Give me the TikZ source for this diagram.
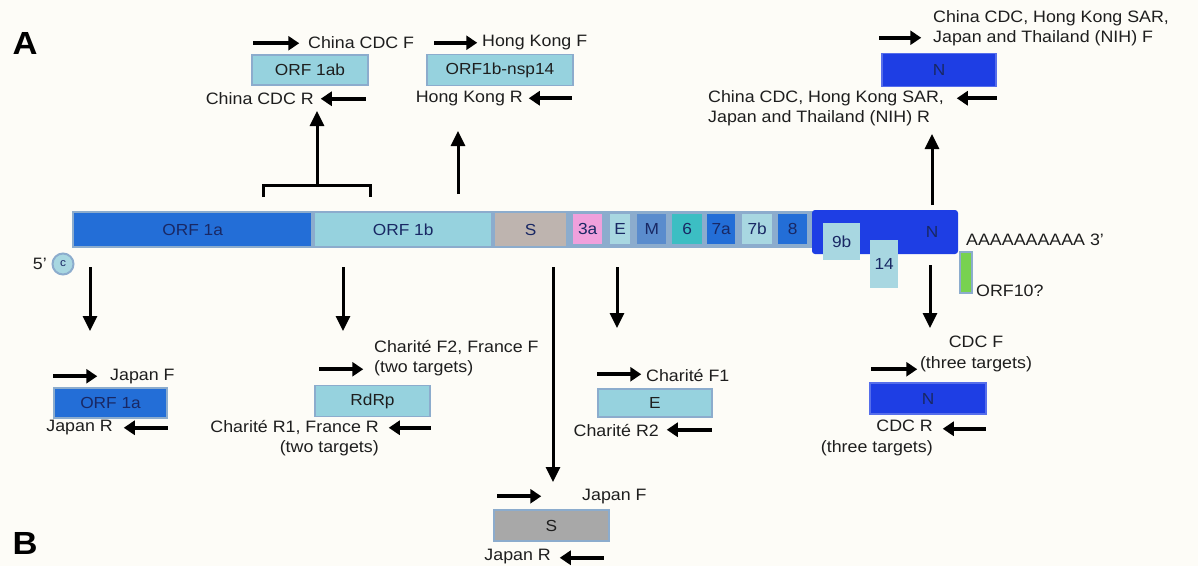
\documentclass[tikz,border=0pt]{standalone}
\usepackage{fontspec}
\setmainfont{Liberation Sans}[FakeStretch=1.08]
\usetikzlibrary{arrows.meta}
\definecolor{fond}{RGB}{253,252,247}
\definecolor{bleuA}{RGB}{35,110,215}
\definecolor{turq}{RGB}{150,210,222}
\definecolor{bord}{RGB}{140,172,205}
\definecolor{beige}{RGB}{190,180,175}
\definecolor{gris}{RGB}{168,168,168}
\definecolor{rose}{RGB}{240,160,220}
\definecolor{acier}{RGB}{90,140,205}
\definecolor{sarcelle}{RGB}{60,190,195}
\definecolor{ciel}{RGB}{168,215,225}
\definecolor{bleuN}{RGB}{30,62,228}
\definecolor{vert}{RGB}{120,210,80}
\definecolor{marine}{RGB}{25,40,100}
\definecolor{texte}{RGB}{30,30,30}
\tikzset{
	gene/.style={draw=bord,line width=1.5pt,inner sep=0pt,text=texte,font=\fontsize{16}{19}\selectfont},
	seg/.style={inner sep=0pt,anchor=north west,text=marine,font=\fontsize{16}{19}\selectfont},
	amorce/.style={line width=4pt,-{Triangle[width=14pt,length=11pt]}},
	fleche/.style={line width=3pt,-{Triangle[width=14pt,length=15pt]}},
	lab/.style={text=texte,inner sep=0pt}
}
\begin{document}
\begin{tikzpicture}[x=1pt,y=-1pt,font=\fontsize{16.5}{20.5}\selectfont]
%					Fond :
					\fill[fond] (0,0) rectangle (1198,566);
					\useasboundingbox (0,0) rectangle (1198,566);
					\node[text=black,font=\fontsize{32}{32}\selectfont\bfseries] (lettreA) at (25,43) {A};
					\node[text=black,font=\fontsize{32}{32}\selectfont\bfseries] (lettreB) at (25,543) {B};
%					Tracé du génome :
					\fill[bord] (72,211) rectangle (813,248);
					\node[seg,fill=bleuA,minimum width=237pt,minimum height=33pt] (s1a) at (74,213) {ORF 1a};
					\node[seg,fill=turq,minimum width=176pt,minimum height=33pt] (s1b) at (315,213) {ORF 1b};
					\node[seg,fill=beige,minimum width=71pt,minimum height=33pt] (sS) at (495,213) {S};
					\node[seg,fill=rose,minimum width=29pt,minimum height=30pt] (s3a) at (573,214) {3a};
					\node[seg,fill=ciel,minimum width=20pt,minimum height=30pt] (sE) at (610,214) {E};
					\node[seg,fill=acier,minimum width=29pt,minimum height=30pt] (sM) at (637,214) {M};
					\node[seg,fill=sarcelle,minimum width=30pt,minimum height=30pt] (s6) at (672,214) {6};
					\node[seg,fill=bleuA,minimum width=28pt,minimum height=30pt] (s7a) at (707,214) {7a};
					\node[seg,fill=ciel,minimum width=30pt,minimum height=30pt] (s7b) at (742,214) {7b};
					\node[seg,fill=bleuA,minimum width=29pt,minimum height=30pt] (s8) at (778,214) {8};
					\fill[bleuN,rounded corners=3pt] (812,210) rectangle (958,254);
					\node[text=marine,font=\fontsize{16}{19}\selectfont] (lN) at (932,232) {N};
					\node[seg,fill=ciel,minimum width=37pt,minimum height=37pt] (s9b) at (823,223) {9b};
					\node[seg,fill=ciel,minimum width=28pt,minimum height=48pt] (s14) at (870,240) {14};
%					Extrémités :
					\node[circle,draw=bord,fill=ciel,line width=2pt,minimum size=21pt,inner sep=0pt,text=marine,font=\fontsize{11}{11}\selectfont] (coiffe) at (63,264) {c};
					\node[lab,anchor=east] (cinq) at (47,264) {5'};
					\node[lab,anchor=west] (polyA) at (966,240) {AAAAAAAAAA 3'};
					\draw[fill=vert,draw=bord,line width=1.5pt] (960,252) rectangle (972,293);
					\node[lab,anchor=west] (orf10) at (976,291) {ORF10?};
%					Cibles du haut :
					\node[gene,fill=turq,minimum width=116pt,minimum height=30pt] (b1ab) at (310,70) {ORF 1ab};
					\draw[amorce] ([shift={(2,-11)}]b1ab.north west) -- ++(46,0);
					\node[lab,anchor=west] (f1ab) at (308,43) {China CDC F};
					\draw[amorce] ([shift={(-3,13)}]b1ab.south east) -- ++(-45,0);
					\node[lab,anchor=east] (r1ab) at (314,99) {China CDC R};
					\node[gene,fill=turq,minimum width=146pt,minimum height=31pt] (bnsp) at (500,70) {ORF1b-nsp14};
					\draw[amorce] ([shift={(8,-11)}]bnsp.north west) -- ++(43,0);
					\node[lab,anchor=west] (fnsp) at (482,43) {Hong Kong F};
					\draw[amorce] ([shift={(-2,12)}]bnsp.south east) -- ++(-43,0);
					\node[lab,anchor=east] (rnsp) at (523,99) {Hong Kong R};
					\node[gene,fill=bleuN,draw=bleuN!75!white,text=marine,minimum width=114pt,minimum height=33pt] (bNh) at (939,70) {N};
					\draw[amorce] ([shift={(-2,-15)}]bNh.north west) -- ++(42,0);
					\node[lab,anchor=west,align=left] (fNh) at (933,28) {China CDC, Hong Kong SAR,\\Japan and Thailand (NIH) F};
					\draw[amorce] ([shift={(0,11)}]bNh.south east) -- ++(-40,0);
					\node[lab,anchor=west,align=left] (rNh) at (708,108) {China CDC, Hong Kong SAR,\\Japan and Thailand (NIH) R};
%					Flèches vers le haut :
					\coordinate (acc) at (317,185);
					\coordinate (pab) at (317,111);
					\draw[line width=3pt] (263,197) -- (263,185) -- (370,185) -- (370,197);
					\draw[fleche] (acc) -- (pab);
					\coordinate (dnsp) at (458,194);
					\coordinate (pnsp) at (458,131);
					\draw[fleche] (dnsp) -- (pnsp);
					\coordinate (dNh) at (932,205);
					\coordinate (pNh) at (932,134);
					\draw[fleche] (dNh) -- (pNh);
%					Flèches vers le bas :
					\coordinate (d1a) at (90,267);
					\coordinate (p1a) at (90,331);
					\draw[fleche] (d1a) -- (p1a);
					\coordinate (dR) at (343,267);
					\coordinate (pR) at (343,331);
					\draw[fleche] (dR) -- (pR);
					\coordinate (dS) at (553,267);
					\coordinate (pS) at (553,482);
					\draw[fleche] (dS) -- (pS);
					\coordinate (dE) at (617,267);
					\coordinate (pE) at (617,328);
					\draw[fleche] (dE) -- (pE);
					\coordinate (dNb) at (930,265);
					\coordinate (pNb) at (930,328);
					\draw[fleche] (dNb) -- (pNb);
%					Cibles du bas :
					\node[gene,fill=bleuA,text=marine,minimum width=113pt,minimum height=30pt] (b1a) at (110.5,403) {ORF 1a};
					\draw[amorce] ([shift={(0,-11)}]b1a.north west) -- ++(44,0);
					\node[lab,anchor=west] (f1a) at (110,377) {Japan F};
					\draw[amorce] ([shift={(0,9)}]b1a.south east) -- ++(-44,0);
					\node[lab,anchor=east] (r1a) at (113,428) {Japan R};
					\node[gene,fill=turq,minimum width=115pt,minimum height=31pt] (bR) at (372.5,401) {RdRp};
					\draw[amorce] ([shift={(5,-15.5)}]bR.north west) -- ++(44,0);
					\node[lab,anchor=west,align=left] (fR) at (374,358) {Charité F2, France F\\(two targets)};
					\draw[amorce] ([shift={(0,10.5)}]bR.south east) -- ++(-42,0);
					\node[lab,anchor=east,align=right] (rR) at (379,438) {Charité R1, France R\\(two targets)};
					\node[gene,fill=turq,minimum width=114pt,minimum height=28pt] (bE) at (655,403) {E};
					\draw[amorce] ([shift={(0,-14)}]bE.north west) -- ++(44,0);
					\node[lab,anchor=west] (fE) at (646,375) {Charité F1};
					\draw[amorce] ([shift={(-1,12)}]bE.south east) -- ++(-45,0);
					\node[lab,anchor=east] (rE) at (659,430) {Charité R2};
					\node[gene,fill=gris,minimum width=115pt,minimum height=31pt] (bS) at (551.5,525.5) {S};
					\draw[amorce] ([shift={(4,-13)}]bS.north west) -- ++(44,0);
					\node[lab,anchor=west] (fS) at (582,497) {Japan F};
					\draw[amorce] ([shift={(-6,16)}]bS.south east) -- ++(-44,0);
					\node[lab,anchor=east] (rS) at (551,557) {Japan R};
					\node[gene,fill=bleuN,draw=bleuN!75!white,text=marine,minimum width=116pt,minimum height=31pt] (bNb) at (928,398.5) {N};
					\draw[amorce] ([shift={(2,-13)}]bNb.north west) -- ++(46,0);
					\node[lab,align=center] (fNb) at (976,354) {CDC F\\(three targets)};
					\draw[amorce] ([shift={(-1,14)}]bNb.south east) -- ++(-43,0);
					\node[lab,anchor=east,align=right] (rNb) at (933,438) {CDC R\\(three targets)};
				\end{tikzpicture}
\end{document}
